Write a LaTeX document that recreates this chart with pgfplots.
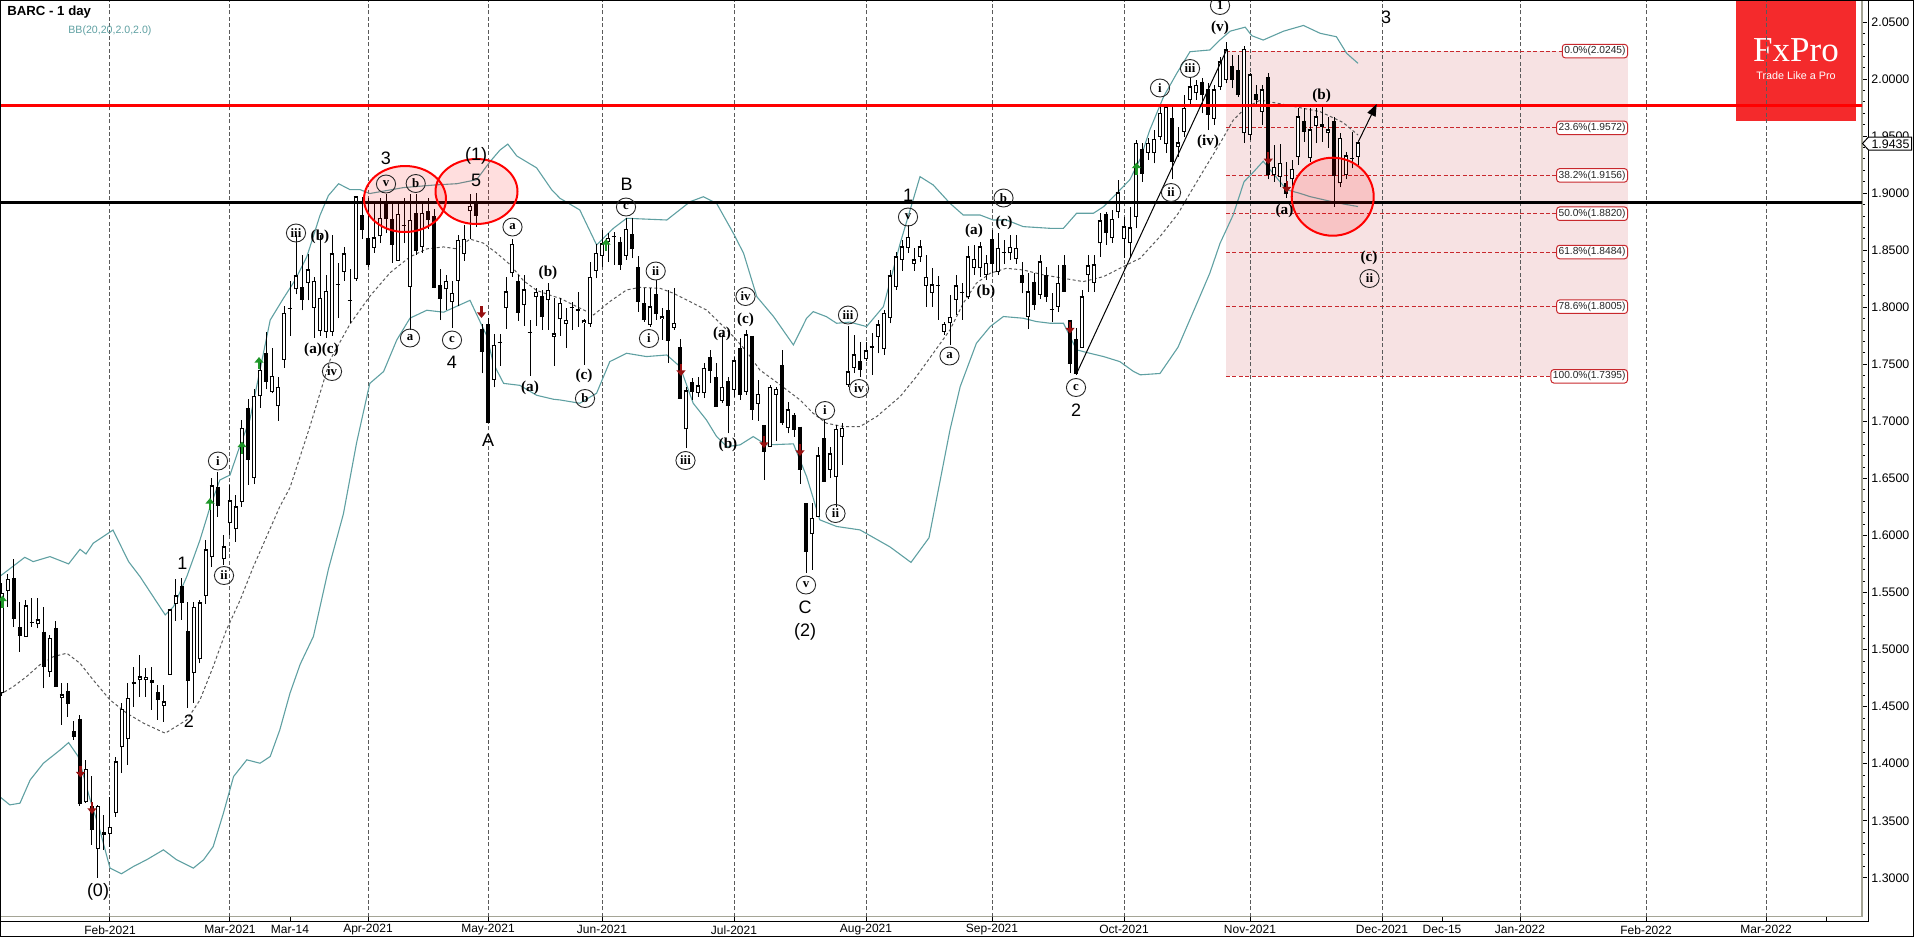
\documentclass[border=0pt]{standalone}
\usepackage{fontspec}
\setmainfont{Liberation Sans}
\newfontfamily\tnr{Liberation Serif}
\usepackage{pgfplots}
\usepackage{pgfplotstable}
\pgfplotsset{compat=1.18}
\usetikzlibrary{arrows.meta,shapes.geometric}

\definecolor{bbc}{RGB}{95,160,162}
\definecolor{midg}{RGB}{90,90,90}
\definecolor{framegray}{RGB}{165,165,150}
\definecolor{fibpink}{RGB}{247,226,227}
\definecolor{fibred}{RGB}{200,40,45}
\definecolor{logored}{RGB}{244,42,44}
\definecolor{agreen}{RGB}{30,150,40}
\definecolor{ared}{RGB}{150,15,15}

\pgfplotstableread{
d o h l c
-18 1.4618 1.5580 1.4590 1.5494
-17 1.5517 1.5663 1.5377 1.5616
-16 1.5625 1.5791 1.5196 1.5269
-15 1.5196 1.5421 1.4983 1.5123
-14 1.5114 1.5435 1.5114 1.5383
-13 1.5240 1.5450 1.5200 1.5234
-12 1.5222 1.5450 1.5187 1.5260
-11 1.5158 1.5377 1.4661 1.4851
-10 1.4807 1.5129 1.4764 1.5100
-9 1.5187 1.5252 1.4676 1.4676
-8 1.4574 1.4705 1.4340 1.4603
-7 1.4638 1.4705 1.4413 1.4530
-6 1.4288 1.4370 1.4210 1.4238
-5 1.4393 1.4428 1.3631 1.3654
-4 1.3660 1.4034 1.3654 1.3952
-3 1.3631 1.3893 1.3289 1.3426
-2 1.3251 1.3640 1.3000 1.3625
-1 1.3400 1.3552 1.3245 1.3377
0 1.3385 1.3712 1.3274 1.3444
1 1.3572 1.4057 1.3537 1.4019
2 1.4144 1.4530 1.3917 1.4477
3 1.4215 1.4705 1.3990 1.4574
4 1.4697 1.4851 1.4501 1.4714
5 1.4735 1.4953 1.4588 1.4764
6 1.4735 1.4837 1.4588 1.4758
7 1.4735 1.4851 1.4472 1.4711
8 1.4626 1.4691 1.4384 1.4559
9 1.4507 1.4691 1.4369 1.4545
10 1.4778 1.5348 1.4778 1.5348
11 1.5400 1.5616 1.5254 1.5473
12 1.5558 1.5625 1.5260 1.5412
13 1.5164 1.5421 1.4486 1.4729
14 1.4793 1.5421 1.4536 1.5371
15 1.4915 1.5435 1.4880 1.5412
16 1.5470 1.5961 1.5400 1.5873
17 1.5809 1.6501 1.5727 1.6437
18 1.6428 1.6559 1.6165 1.6267
19 1.5791 1.6005 1.5742 1.5902
20 1.6107 1.6443 1.6005 1.6305
21 1.6054 1.6355 1.5946 1.6253
22 1.6297 1.7012 1.6253 1.6939
23 1.7120 1.7200 1.6443 1.6662
24 1.6501 1.7280 1.6450 1.7220
25 1.7220 1.7520 1.7120 1.7450
26 1.7600 1.7780 1.7280 1.7350
27 1.7257 1.7645 1.7246 1.7395
28 1.7132 1.7385 1.7004 1.7298
29 1.7541 1.8009 1.7472 1.7947
30 1.7995 1.8234 1.7749 1.7990
31 1.8158 1.8633 1.8113 1.8276
32 1.8175 1.8460 1.7974 1.8068
33 1.8210 1.8470 1.8061 1.8331
34 1.7992 1.8269 1.7732 1.8227
35 1.7791 1.8633 1.7749 1.8078
36 1.7784 1.8286 1.7732 1.8141
37 1.7784 1.8633 1.7749 1.8470
38 1.8203 1.8390 1.7905 1.8197
39 1.8310 1.8529 1.8234 1.8470
40 1.8063 1.8338 1.7863 1.8059
41 1.8252 1.8979 1.8234 1.8969
42 1.8806 1.8969 1.8598 1.8685
43 1.8609 1.8962 1.8356 1.8373
44 1.8518 1.8927 1.8477 1.8609
45 1.8622 1.8962 1.8563 1.8782
46 1.8910 1.8997 1.8650 1.8782
47 1.8771 1.8927 1.8390 1.8553
48 1.8408 1.8910 1.8408 1.8817
49 1.8721 1.8962 1.8563 1.8717
50 1.8182 1.8997 1.7801 1.8761
51 1.8823 1.8997 1.8460 1.8494
52 1.8529 1.8910 1.8477 1.8823
53 1.8841 1.8962 1.8685 1.8771
54 1.8796 1.8858 1.8165 1.8172
55 1.8193 1.8338 1.7888 1.8078
56 1.8158 1.8286 1.7974 1.8227
57 1.8044 1.8234 1.7818 1.8123
58 1.8234 1.8633 1.8009 1.8588
59 1.8470 1.8719 1.8408 1.8598
60 1.8841 1.8997 1.8598 1.8886
61 1.8910 1.9004 1.8702 1.8806
62 1.7808 1.7853 1.7420 1.7610
63 1.7853 1.7905 1.6993 1.6993
64 1.7361 1.7766 1.7298 1.7669
65 1.7699 1.7766 1.7489 1.7695
66 1.7992 1.8269 1.7811 1.8137
67 1.8297 1.8598 1.8269 1.8553
68 1.8234 1.8286 1.7881 1.7957
69 1.8019 1.8286 1.7836 1.8155
70 1.7786 1.7888 1.7402 1.7782
71 1.8089 1.8165 1.7836 1.8130
72 1.8096 1.8148 1.7801 1.7922
73 1.8061 1.8217 1.7801 1.8148
74 1.7742 1.8078 1.7489 1.7766
75 1.7895 1.8078 1.7749 1.8037
76 1.7853 1.7992 1.7645 1.7888
77 1.8006 1.8050 1.7801 1.8000
78 1.7968 1.8137 1.7831 1.7982
79 1.7860 1.7900 1.7495 1.7880
80 1.7854 1.8400 1.7831 1.8263
81 1.8321 1.8555 1.8254 1.8473
82 1.8450 1.8677 1.8356 1.8555
83 1.8575 1.8648 1.8400 1.8604
84 1.8621 1.8663 1.8371 1.8617
85 1.8575 1.8619 1.8327 1.8371
86 1.8450 1.8780 1.8415 1.8683
87 1.8642 1.8780 1.8429 1.8517
88 1.8350 1.8450 1.7962 1.8055
89 1.8035 1.8166 1.7874 1.7889
90 1.7845 1.8166 1.7831 1.8006
91 1.8114 1.8239 1.7889 1.7947
92 1.7898 1.7991 1.7714 1.7918
93 1.7977 1.8152 1.7515 1.7708
94 1.7822 1.8166 1.7801 1.7860
95 1.7650 1.7720 1.7203 1.7203
96 1.6931 1.7305 1.6765 1.7267
97 1.7343 1.7378 1.7188 1.7261
98 1.7252 1.7393 1.7217 1.7311
99 1.7252 1.7509 1.7203 1.7466
100 1.7562 1.7626 1.7334 1.7445
101 1.7387 1.7509 1.7130 1.7130
102 1.7182 1.7758 1.7159 1.7299
103 1.7355 1.7393 1.6896 1.7136
104 1.7276 1.7568 1.7217 1.7533
105 1.7641 1.7728 1.7188 1.7232
106 1.7261 1.7801 1.7232 1.7758
107 1.7749 1.7749 1.7013 1.7107
108 1.7153 1.7363 1.7007 1.7238
109 1.6969 1.6969 1.6487 1.6736
110 1.6779 1.7320 1.6779 1.7299
111 1.7232 1.7305 1.6832 1.7282
112 1.7495 1.7626 1.6969 1.6993
113 1.6940 1.7174 1.6896 1.7101
114 1.7057 1.7071 1.6867 1.6925
115 1.6955 1.6955 1.6452 1.6575
116 1.6283 1.6283 1.5670 1.5860
117 1.6012 1.6283 1.5699 1.6152
118 1.6166 1.6779 1.6166 1.6698
119 1.6852 1.7013 1.6473 1.6473
120 1.6575 1.6779 1.6502 1.6715
121 1.6511 1.6969 1.6254 1.6931
122 1.6867 1.6984 1.6619 1.6940
123 1.7320 1.7836 1.7305 1.7436
124 1.7466 1.7758 1.7422 1.7583
125 1.7525 1.7700 1.7393 1.7451
126 1.7545 1.7700 1.7525 1.7618
127 1.7641 1.7773 1.7408 1.7656
128 1.7743 1.7889 1.7597 1.7846
129 1.7633 1.7977 1.7583 1.7948
130 1.7904 1.8327 1.7860 1.8275
131 1.8181 1.8488 1.8152 1.8444
132 1.8415 1.8590 1.8321 1.8532
133 1.8517 1.8722 1.8479 1.8614
134 1.8380 1.8517 1.8321 1.8415
135 1.8444 1.8590 1.8400 1.8532
136 1.8187 1.8459 1.8006 1.8263
137 1.8129 1.8342 1.8006 1.8196
138 1.8198 1.8275 1.7889 1.8194
139 1.7787 1.7875 1.7758 1.7851
140 1.7860 1.8108 1.7670 1.7913
141 1.8065 1.8283 1.7933 1.8187
142 1.8134 1.8211 1.7889 1.8130
143 1.8088 1.8538 1.8071 1.8444
144 1.8342 1.8546 1.8283 1.8421
145 1.8342 1.8576 1.8269 1.8532
146 1.8283 1.8459 1.8240 1.8386
147 1.8596 1.8678 1.8298 1.8380
148 1.8313 1.8649 1.8283 1.8517
149 1.8481 1.8590 1.8380 1.8477
150 1.8473 1.8634 1.8415 1.8526
151 1.8421 1.8634 1.8380 1.8517
152 1.8284 1.8400 1.8123 1.8216
153 1.7919 1.8298 1.7808 1.8138
154 1.8225 1.8298 1.7977 1.8021
155 1.8108 1.8459 1.8071 1.8400
156 1.8284 1.8357 1.8050 1.8094
157 1.7985 1.8123 1.7875 1.7981
158 1.8006 1.8371 1.7962 1.8211
159 1.8371 1.8459 1.8138 1.8138
160 1.7889 1.7889 1.7422 1.7510
161 1.7720 1.7817 1.7408 1.7422
162 1.7641 1.8152 1.7641 1.8094
163 1.8284 1.8459 1.8138 1.8363
164 1.8216 1.8459 1.8138 1.8371
165 1.8561 1.8824 1.8444 1.8760
166 1.8818 1.8838 1.8546 1.8654
167 1.8605 1.8853 1.8567 1.8771
168 1.8838 1.9116 1.8780 1.9005
169 1.8597 1.8795 1.8430 1.8707
170 1.8567 1.8883 1.8444 1.8699
171 1.8795 1.9467 1.8692 1.9437
172 1.9385 1.9437 1.9102 1.9175
173 1.9356 1.9481 1.9291 1.9437
174 1.9356 1.9554 1.9262 1.9473
175 1.9496 1.9759 1.9467 1.9700
176 1.9432 1.9759 1.9350 1.9753
177 1.9656 1.9759 1.9122 1.9277
178 1.9402 1.9583 1.9321 1.9443
179 1.9540 1.9861 1.9496 1.9744
180 1.9817 2.0007 1.9759 1.9934
181 1.9875 1.9992 1.9817 1.9948
182 1.9978 2.0007 1.9700 1.9861
183 1.9910 1.9963 1.9554 1.9686
184 1.9651 1.9948 1.9598 1.9905
185 1.9934 2.0197 1.9905 2.0153
186 1.9992 2.0328 1.9963 2.0255
187 2.0115 2.0211 1.9919 1.9998
188 2.0080 2.0211 1.9846 1.9861
189 1.9525 2.0290 1.9440 2.0261
190 1.9510 2.0057 1.9467 2.0036
191 1.9867 1.9950 1.9780 1.9823
192 1.9715 1.9949 1.9600 1.9905
193 2.0021 2.0050 1.9120 1.9160
194 1.9160 1.9423 1.9102 1.9227
195 1.9146 1.9432 1.9050 1.9262
196 1.9087 1.9277 1.8956 1.9000
197 1.9122 1.9292 1.8970 1.9210
198 1.9315 1.9744 1.9250 1.9671
199 1.9636 1.9744 1.9452 1.9540
200 1.9306 1.9744 1.9277 1.9554
201 1.9589 1.9744 1.9438 1.9671
202 1.9584 1.9759 1.9452 1.9601
203 1.9525 1.9671 1.9400 1.9554
204 1.9633 1.9671 1.8883 1.9151
205 1.9087 1.9525 1.9050 1.9481
206 1.9160 1.9365 1.9120 1.9327
207 1.9309 1.9540 1.9218 1.9303
208 1.9321 1.9452 1.9248 1.9443
}\candles

\pgfplotstableread{
d p
-18.4 1.5640
-14.2 1.5809
-12.8 1.5771
-10 1.5815
-6.9 1.5751
-5 1.5879
-4 1.5838
-2.8 1.5932
0.5 1.6048
3.1 1.5771
5 1.5640
7.2 1.5464
9.2 1.5304
10.6 1.5377
12.8 1.5640
15 1.5961
16.7 1.6253
18.3 1.6486
20 1.6530
21.7 1.6793
23.3 1.7012
25 1.7450
26.7 1.7888
28.9 1.8078
30.8 1.8234
32.8 1.8442
35 1.8806
36.4 1.8979
38.1 1.9083
40 1.9031
41.7 1.9031
43.3 1.8997
48.9 1.9049
54.4 1.9073
57.8 1.9083
61.1 1.9118
63.3 1.9274
65 1.9378
66.3 1.9430
67.8 1.9326
71.1 1.9222
73.6 1.9031
75 1.8955
78.3 1.8853
81.1 1.8546
83.9 1.8692
86.1 1.8780
92.8 1.8765
96.7 1.8926
98.9 1.8969
101.1 1.8911
103.9 1.8648
105.6 1.8473
107.8 1.8093
110.6 1.7918
113.9 1.7670
116.1 1.7904
117.2 1.7962
119.4 1.7918
121.1 1.7860
123.3 1.7870
126.1 1.7831
128.9 1.8006
131.7 1.8561
135 1.9145
137.2 1.9072
140 1.8911
142.2 1.8809
145 1.8809
147.2 1.8765
149.4 1.8765
152.2 1.8707
156.7 1.8692
158.9 1.8692
161.1 1.8824
163.9 1.8824
165.6 1.8882
167.8 1.8999
170 1.9120
171.7 1.9300
173.3 1.9554
175.6 1.9846
177.8 2.0051
180 2.0240
183.3 2.0255
185 2.0343
186.7 2.0420
189.2 2.0455
190.3 2.0380
192.2 2.0342
195.6 2.0420
198.9 2.0470
201.7 2.0401
204.4 2.0371
206.1 2.0226
208 2.0138
}\bbup

\pgfplotstableread{
d p
-18.4 1.4603
-16.1 1.4676
-13.9 1.4764
-11.7 1.4866
-9.4 1.4939
-7.2 1.4968
-5 1.4880
-2.8 1.4734
0 1.4559
2.8 1.4442
5.6 1.4355
9.2 1.4267
12.8 1.4384
15 1.4559
17.2 1.4851
19.4 1.5172
21.7 1.5435
23.9 1.5727
26.1 1.5990
28.3 1.6253
30 1.6420
33.3 1.6952
36.7 1.7541
40 1.7853
43.3 1.8096
46.7 1.8304
50 1.8442
52.8 1.8512
55.6 1.8529
57.8 1.8512
60 1.8598
62.2 1.8563
64.4 1.8477
66.7 1.8373
68.9 1.8234
71.1 1.8148
73.9 1.8096
75 1.8079
77.8 1.8006
80.6 1.7933
83.3 1.8050
86.1 1.8152
88.3 1.8175
91.7 1.8166
93.9 1.8123
97.2 1.8035
99.4 1.7977
101.7 1.7860
103.9 1.7743
106.1 1.7612
108.3 1.7451
110.6 1.7363
112.8 1.7276
115 1.7188
117.2 1.7071
119.4 1.6984
122.2 1.6955
125 1.6955
127.8 1.7043
131.7 1.7218
134.4 1.7393
137.2 1.7597
140 1.7802
142.2 1.8035
144.4 1.8211
146.7 1.8298
149.4 1.8342
152.2 1.8327
155.6 1.8284
158.9 1.8254
162.2 1.8225
165.6 1.8269
168.9 1.8357
171.7 1.8430
175 1.8620
178 1.8820
180 1.9000
182.5 1.9220
185 1.9437
187.2 1.9640
189.2 1.9744
191.7 1.9816
196.1 1.9773
201.7 1.9714
205.5 1.9620
208 1.9510
}\bbmid

\pgfplotstableread{
d p
-18.4 1.3712
-16.7 1.3639
-15 1.3654
-13.3 1.3858
-11.1 1.4004
-8.3 1.4121
-6.9 1.4185
-5.3 1.4063
-3.3 1.3683
-1.7 1.3420
0 1.3085
1.9 1.3035
3.9 1.3099
6.1 1.3158
8.9 1.3245
11.1 1.3158
13.9 1.3085
15.6 1.3158
17.2 1.3274
18.9 1.3566
20.6 1.3888
22.8 1.4034
25 1.4004
26.7 1.4063
28.3 1.4296
30 1.4618
31.7 1.4872
33.9 1.5115
36.4 1.5704
38.9 1.6189
41.1 1.6813
43.3 1.7333
45.6 1.7437
47.8 1.7714
50 1.7905
52.8 1.7974
55.6 1.7957
57.8 1.8009
60 1.8061
62.8 1.7749
63.9 1.7506
65.6 1.7333
68.3 1.7316
71.1 1.7229
73.9 1.7194
75 1.7188
78.3 1.7159
81.1 1.7247
83.3 1.7524
86.1 1.7597
89.4 1.7568
92.8 1.7582
95 1.7480
97.2 1.7159
99.4 1.7013
101.1 1.6867
102.8 1.6779
105 1.6794
107.2 1.6867
109.4 1.6794
113.9 1.6803
116.1 1.6517
118.3 1.6137
121.1 1.6079
125 1.6049
130 1.5900
133.5 1.5764
136.5 1.5980
140 1.6926
141.7 1.7305
144.4 1.7685
146.7 1.7831
148.9 1.7919
152.2 1.7904
154.4 1.7875
156.7 1.7860
158.9 1.7860
161.1 1.7627
163.3 1.7597
165.6 1.7568
168.3 1.7524
170.6 1.7437
171.7 1.7408
175 1.7420
178 1.7650
181.4 1.8065
183.3 1.8299
185 1.8560
187.2 1.8810
189 1.9100
190.3 1.9170
192.2 1.9280
193.9 1.9170
196.1 1.9030
198.3 1.8999
200 1.8970
203.3 1.8930
205.6 1.8905
208 1.8883
}\bblow

\tikzset{
  wl/.style={font=\fontsize{9}{9}\selectfont, inner sep=0pt},
  pl/.style={font=\tnr\bfseries\fontsize{7.6}{7.6}\selectfont, inner sep=0pt},
  cl/.style={draw=black!85, line width=0.45pt, ellipse, inner sep=0pt, minimum width=9.6pt, minimum height=9pt, font=\tnr\bfseries\fontsize{6.4}{6.4}\selectfont},
  garr/.style={agreen, line width=1.1pt, -{Triangle[width=4.4pt,length=2.8pt]}},
  rarr/.style={ared, line width=1.1pt, -{Triangle[width=4.4pt,length=2.8pt]}},
  vgrid/.style={draw=midg, line width=0.5pt, dash pattern=on 2pt off 1.2pt},
  fibl/.style={fibred, line width=0.5pt, dash pattern=on 2pt off 1.2pt},
}

\begin{document}
\begin{tikzpicture}
\path[use as bounding box] (0,0) rectangle (958.5pt,-469pt);
% logo (under the chart lines)
\begin{scope}[x=0.5pt,y=-0.5pt]
\fill[logored] (1736,0) rectangle (1856,121);
\node[text=white, font=\tnr\fontsize{17.5}{17.5}\selectfont, inner sep=0pt] at (1796,50) {FxPro};
\node[text=white, font=\fontsize{5.4}{6}\selectfont, inner sep=0pt] at (1796,76) {Trade Like a Pro};
\end{scope}

\begin{axis}[
  at={(0pt,0pt)}, anchor=north west,
  scale only axis, width=931pt, height=458.35pt,
  xmin=-18.333, xmax=292, ymin=1.2659, ymax=2.0693,
  axis line style={draw=framegray, line width=0.6pt},
  tick align=outside,
  xtick pos=bottom, ytick pos=right, yticklabel pos=right,
  xtick={0,20,30,43,63,82,104,126,147,169,190,212,222,235,256,276,286},
  xticklabels={Feb-2021,Mar-2021,Mar-14,Apr-2021,May-2021,Jun-2021,Jul-2021,Aug-2021,Sep-2021,Oct-2021,Nov-2021,Dec-2021,Dec-15,Jan-2022,Feb-2022,Mar-2022,{}},
  ytick={1.30,1.35,1.40,1.45,1.50,1.55,1.60,1.65,1.70,1.75,1.80,1.85,1.90,1.95,2.00,2.05},
  minor y tick num=4,
  major tick length=2.5pt, minor tick length=1.5pt,
  tick style={black, line width=0.5pt},
  yticklabel={\pgfmathprintnumber[fixed,fixed zerofill,precision=4,assume math mode=true]{\tick}},
  yticklabel style={font=\fontsize{6.2}{7}\selectfont, anchor=west, inner sep=0pt, xshift=2pt},
  xticklabel style={font=\fontsize{6}{7}\selectfont, anchor=center, inner sep=0pt, yshift=-4pt},
]
% Fibonacci box
\fill[fibpink] (axis cs:186,1.7395) rectangle (axis cs:253,2.0245);
% vertical grid
\pgfplotsinvokeforeach{0,20,43,63,82,104,126,147,169,190,212,235,256,276}{
  \draw[vgrid] (axis cs:#1,1.2659) -- (axis cs:#1,2.0693);
}
\draw[fibl] (axis cs:186,2.0245) -- (axis cs:253,2.0245);
\draw[fibl] (axis cs:186,1.9572) -- (axis cs:253,1.9572);
\draw[fibl] (axis cs:186,1.9156) -- (axis cs:253,1.9156);
\draw[fibl] (axis cs:186,1.8820) -- (axis cs:253,1.8820);
\draw[fibl] (axis cs:186,1.8484) -- (axis cs:253,1.8484);
\draw[fibl] (axis cs:186,1.8005) -- (axis cs:253,1.8005);
\draw[fibl] (axis cs:186,1.7395) -- (axis cs:253,1.7395);
% Bollinger bands
\addplot[bbc, line width=0.55pt, mark=none] table[x=d,y=p] {\bbup};
\addplot[bbc, line width=0.55pt, mark=none] table[x=d,y=p] {\bblow};
\addplot[midg, line width=0.5pt, dash pattern=on 1.5pt off 1.2pt, mark=none] table[x=d,y=p] {\bbmid};
% candles: wicks (low to high)
\addplot[black, line width=0.5pt, line cap=butt, mark=none, forget plot,
  quiver={u=0, v=\thisrow{h}-\thisrow{l}}]
  table[x=d, y=l] {\candles};
% bodies: black (open to close)
\addplot[black, line width=2.4pt, line cap=butt, mark=none, forget plot,
  quiver={u=0, v=\thisrow{c}-\thisrow{o}}]
  table[x=d, y=o] {\candles};
% thin horizontal line at the close (shows doji bodies)
\addplot[black, line width=0.5pt, line cap=butt, mark=none, forget plot,
  quiver={u=0.8, v=0}]
  table[x expr=\thisrow{d}-0.4, y=c] {\candles};
% white inside of rising candles
\addplot[white, line width=1.4pt, line cap=butt, mark=none, forget plot,
  quiver={u=0, v={max(\thisrow{c}-\thisrow{o}-0.00176,0)}}]
  table[x=d, y expr=\thisrow{o}+0.00088] {\candles};
% key levels
\addplot[red, line width=1.5pt, mark=none, forget plot] coordinates {(-19,1.977) (293,1.977)};
\addplot[black, line width=1.5pt, mark=none, forget plot] coordinates {(-19,1.892) (293,1.892)};
% Fibonacci labels
\begin{scope}[every node/.style={anchor=east, draw=fibred, fill=white, rounded corners=1.5pt, line width=0.5pt, inner xsep=1pt, inner ysep=1pt, font=\fontsize{5.1}{5.5}\selectfont, text=black!85}]
\node at (axis cs:253,2.0245) {0.0\%(2.0245)};
\node at (axis cs:253,1.9572) {23.6\%(1.9572)};
\node at (axis cs:253,1.9156) {38.2\%(1.9156)};
\node at (axis cs:253,1.8820) {50.0\%(1.8820)};
\node at (axis cs:253,1.8484) {61.8\%(1.8484)};
\node at (axis cs:253,1.8005) {78.6\%(1.8005)};
\node at (axis cs:253,1.7395) {100.0\%(1.7395)};
\end{scope}
\end{axis}

\begin{scope}[x=0.5pt,y=-0.5pt]
% frame lines
\draw[black, line width=0.5pt] (1868,0) -- (1868,921) -- (0,921);
\draw[black, line width=0.6pt] (0.3,0.3) rectangle (1913.5,936.7);
% price tag
\draw[black, fill=white, line width=0.5pt] (1862.5,143.5) -- (1868.5,137) -- (1911.5,137) -- (1911.5,150) -- (1868.5,150) -- cycle;
\node[font=\fontsize{6.2}{7}\selectfont, inner sep=0pt] at (1890.5,143.8) {1.9435};
% title
\node[anchor=west, font=\bfseries\fontsize{6.6}{7}\selectfont, inner sep=0pt] at (7,12.5) {BARC - 1 day};
\node[anchor=west, text=bbc, font=\fontsize{5.3}{6}\selectfont, inner sep=0pt] at (68,30.5) {BB(20,20,2.0,2.0)};
% circles
\draw[red, line width=1pt, fill=red, fill opacity=0.13] (405,199) ellipse (41 and 33);
\draw[red, line width=1pt, fill=red, fill opacity=0.13] (476.5,191.5) ellipse (41 and 32.5);
\draw[red, line width=1pt, fill=red, fill opacity=0.13] (1332.7,196.7) ellipse (41 and 39);
% trend line and projection arrow
\draw[black, line width=0.5pt] (1076.7,373.3) -- (1226.5,50);
\draw[black, line width=0.5pt, -{Triangle[width=4.5pt,length=6pt]}] (1358.3,141.7) -- (1376.7,104);
% signal arrows
\foreach \x/\y in {2.4/601.5, 210/504, 242/447.5, 259/363, 606/245, 1136.5/168.5} {\draw[garr] (\x,\y+6) -- (\x,\y-6);}
\foreach \x/\y in {80.5/771.5, 92/808, 481.5/312, 681/370, 764/442, 800/450, 1070/327.5, 1268.3/158.3, 1286.7/186.5} {\draw[rarr] (\x,\y-6) -- (\x,\y+6);}
% wave labels (plain)
\node[wl] at (98,891.5) {(0)};
\node[wl] at (182.5,563) {1};
\node[wl] at (189,721) {2};
\node[wl] at (386,158) {3};
\node[wl] at (476,156) {(1)};
\node[wl] at (476,180) {5};
\node[wl] at (452,362.5) {4};
\node[wl] at (488,440) {A};
\node[wl] at (626.5,184) {B};
\node[wl] at (805,607.5) {C};
\node[wl] at (805,632) {(2)};
\node[wl] at (908,195) {1};
\node[wl] at (1076,410) {2};
\node[wl] at (1386,17) {3};
% parenthesised letters
\node[pl] at (320,237) {(b)};
\node[pl] at (321.5,349.7) {(a)(c)};
\node[pl] at (548,273) {(b)};
\node[pl] at (530,387.5) {(a)};
\node[pl] at (584,376) {(c)};
\node[pl] at (722,333.5) {(a)};
\node[pl] at (728,445) {(b)};
\node[pl] at (745.5,320) {(c)};
\node[pl] at (974,231) {(a)};
\node[pl] at (1004,222.5) {(c)};
\node[pl] at (986,292) {(b)};
\node[pl] at (1220,28) {(v)};
\node[pl] at (1208,142) {(iv)};
\node[pl] at (1321.7,96) {(b)};
\node[pl] at (1284.5,210.5) {(a)};
\node[pl] at (1369,258) {(c)};
% circled labels
\node[cl] at (218,461) {i};
\node[cl] at (224,575.5) {ii};
\node[cl] at (296,233) {iii};
\node[cl] at (332,371.5) {iv};
\node[cl] at (386,184) {v};
\node[cl] at (415.7,183.5) {b};
\node[cl] at (410,338) {a};
\node[cl] at (452,340) {c};
\node[cl] at (512.5,227) {a};
\node[cl] at (626,207) {c};
\node[cl] at (655.7,271) {ii};
\node[cl] at (649,338.5) {i};
\node[cl] at (585,398.5) {b};
\node[cl] at (685.5,460.5) {iii};
\node[cl] at (745.5,296.5) {iv};
\node[cl] at (806,585) {v};
\node[cl] at (825,410.5) {i};
\node[cl] at (835.5,513.5) {ii};
\node[cl] at (848,315) {iii};
\node[cl] at (859,388.5) {iv};
\node[cl] at (908,217) {v};
\node[cl] at (1003.5,198) {b};
\node[cl] at (949.5,356) {a};
\node[cl] at (1076,387.5) {c};
\node[cl] at (1220,5.5) {1};
\node[cl] at (1190,68.5) {iii};
\node[cl] at (1160,88) {i};
\node[cl] at (1171,192.5) {ii};
\node[cl] at (1369.5,278.5) {ii};
\end{scope}
\end{tikzpicture}
\end{document}
